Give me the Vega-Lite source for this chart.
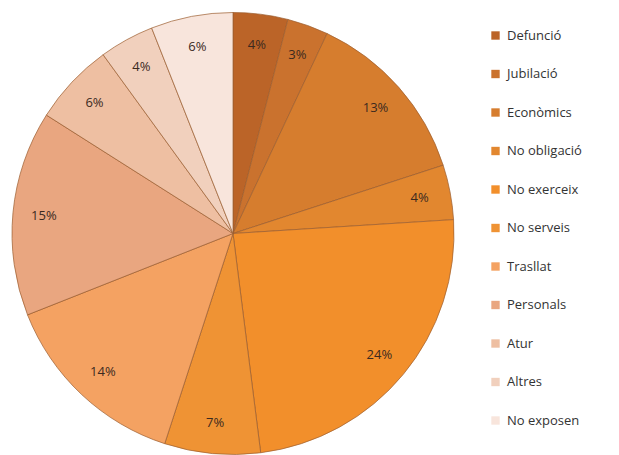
{
  "$schema": "https://vega.github.io/schema/vega-lite/v6.json",
  "width": 466,
  "height": 455,
  "padding": {"top": 6, "left": 0, "right": 0, "bottom": 0},
  "background": "white",
  "data": {
    "values": [
      {"motiu": "Defunció", "ordre": 1, "valor": 0.04},
      {"motiu": "Jubilació", "ordre": 2, "valor": 0.03},
      {"motiu": "Econòmics", "ordre": 3, "valor": 0.13},
      {"motiu": "No obligació", "ordre": 4, "valor": 0.04},
      {"motiu": "No exerceix", "ordre": 5, "valor": 0.24},
      {"motiu": "No serveis", "ordre": 6, "valor": 0.07},
      {"motiu": "Trasllat", "ordre": 7, "valor": 0.14},
      {"motiu": "Personals", "ordre": 8, "valor": 0.15},
      {"motiu": "Atur", "ordre": 9, "valor": 0.06},
      {"motiu": "Altres", "ordre": 10, "valor": 0.04},
      {"motiu": "No exposen", "ordre": 11, "valor": 0.06}
    ]
  },
  "encoding": {
    "theta": {"field": "valor", "type": "quantitative", "stack": true},
    "order": {"field": "ordre", "type": "quantitative"},
    "color": {
      "field": "motiu",
      "type": "nominal",
      "sort": ["Defunció", "Jubilació", "Econòmics", "No obligació", "No exerceix", "No serveis", "Trasllat", "Personals", "Atur", "Altres", "No exposen"],
      "scale": {
        "domain": ["Defunció", "Jubilació", "Econòmics", "No obligació", "No exerceix", "No serveis", "Trasllat", "Personals", "Atur", "Altres", "No exposen"],
        "range": ["#bb6428", "#ca722e", "#d67d2e", "#e2872f", "#f28f2b", "#ef9334", "#f4a262", "#e9a680", "#eebfa2", "#f1d0bd", "#f8e5dc"]
      },
      "legend": {
        "title": null,
        "orient": "none",
        "legendX": 489,
        "legendY": 23,
        "symbolType": "square",
        "symbolSize": 70,
        "symbolStrokeWidth": 0,
        "labelFont": "Open Sans",
        "labelFontSize": 13,
        "labelColor": "#333333",
        "labelOffset": 5,
        "rowPadding": 24.5
      }
    }
  },
  "layer": [
    {
      "mark": {"type": "arc", "outerRadius": 221, "stroke": "#9b5e30", "strokeWidth": 1, "strokeOpacity": 0.7}
    },
    {
      "mark": {"type": "text", "radius": 190, "font": "Open Sans", "fontSize": 13, "fill": "#3b2a1f"},
      "encoding": {
        "text": {"field": "valor", "type": "quantitative", "format": ".0%"},
        "color": {"value": "#3b2a1f"}
      }
    }
  ]
}
